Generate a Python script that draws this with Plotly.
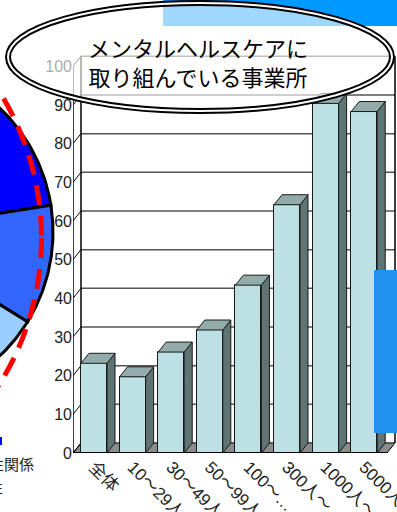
import numpy as np
import plotly.graph_objects as go

# ---------------- data ----------------
categories = ["全体", "10～29人", "30～49人", "50～99人", "100～…", "300人～", "1000人～", "5000人～"]
values = [23.2, 19.7, 26.1, 31.8, 43.4, 64.2, 90.4, 88.3]
y_ticks = [0, 10, 20, 30, 40, 50, 60, 70, 80, 90, 100]
pie_shares = [22.5, 11.3, 19.0, 47.2]
pie_colors = ["#0000FF", "#3366FF", "#99CCFF", "#CCCCCC"]
title_text = "メンタルヘルスケアに<br>取り組んでいる事業所"
legend_lines = ["異性関係", "異性"]

# ---------------- geometry (pixels of the 397x512 page) ----------------
W, H = 397, 512
X0PX, XSTEP = 94.0, 38.6        # pixel of category 0, pixels per category
Y0PX, YSCALE = 453.0, 3.867     # pixel of value 0, pixels per unit
XMIN = (73 - X0PX) / XSTEP
XMAX = (W - X0PX) / XSTEP
YMAX = Y0PX / YSCALE
DX = 8 / XSTEP                  # 3D depth offset in data units
DY = 10 / YSCALE
HW = 0.337                      # half bar width
XL_F, XL_B = XMIN, XMIN + DX
XR_B = (395 - X0PX) / XSTEP
XR_F = XR_B - DX

fig = go.Figure()

# front faces of bars
idx = list(range(len(categories)))
fig.add_trace(go.Bar(
    x=idx, y=values, width=2 * HW,
    marker=dict(color="#BDE0E4", line=dict(color="#1a1a1a", width=1)),
    showlegend=False, hoverinfo="skip", xaxis="x", yaxis="y"))

# side and top faces computed from the values
sx, sy, tx, ty = [], [], [], []
for i, v in zip(idx, values):
    sx += [i + HW, i + HW + DX, i + HW + DX, i + HW, i + HW, None]
    sy += [0, DY, v + DY, v, 0, None]
    tx += [i - HW, i - HW + DX, i + HW + DX, i + HW, i - HW, None]
    ty += [v, v + DY, v + DY, v, v, None]
fig.add_trace(go.Scatter(x=sx, y=sy, mode="lines", fill="toself", fillcolor="#5F7474",
                         line=dict(color="#1a1a1a", width=1), showlegend=False,
                         hoverinfo="skip", xaxis="x", yaxis="y"))
fig.add_trace(go.Scatter(x=tx, y=ty, mode="lines", fill="toself", fillcolor="#93ABAB",
                         line=dict(color="#1a1a1a", width=1), showlegend=False,
                         hoverinfo="skip", xaxis="x", yaxis="y"))

# pie (partially visible, centre off the page) drawn on a pixel axis
cx, cy, r = -118.0, 232.0, 171.0
start = 90.0
for share, col in zip(pie_shares, pie_colors):
    sweep = share / 100 * 360
    angs = np.radians(np.linspace(start, start - sweep, 80))
    xs = [cx] + list(cx + r * np.cos(angs)) + [cx]
    ys = [cy] + list(cy - r * np.sin(angs)) + [cy]
    fig.add_trace(go.Scatter(x=xs, y=ys, mode="lines", fill="toself", fillcolor=col,
                             line=dict(color="black", width=3), showlegend=False,
                             hoverinfo="skip", xaxis="x2", yaxis="y2"))
    start -= sweep

shapes = []
# floor
shapes.append(dict(type="path", xref="x", yref="y", layer="below",
                   path=f"M {XL_F},0 L {XR_F},0 L {XR_B},{DY} L {XL_B},{DY} Z",
                   fillcolor="#8C8C8C", line=dict(color="black", width=1)))
# back wall gridlines and left wall diagonals
for v in y_ticks:
    shapes.append(dict(type="line", xref="x", yref="y", layer="below",
                       x0=XL_B, x1=XR_B, y0=v + DY, y1=v + DY,
                       line=dict(color="#555555", width=1.5)))
    shapes.append(dict(type="line", xref="x", yref="y", layer="below",
                       x0=XL_F, x1=XL_B, y0=v, y1=v + DY,
                       line=dict(color="black", width=1)))
shapes += [
    dict(type="line", xref="x", yref="y", layer="below", x0=XL_F, x1=XL_F, y0=0, y1=100,
         line=dict(color="black", width=1.5)),
    dict(type="line", xref="x", yref="y", layer="below", x0=XL_B, x1=XL_B, y0=DY, y1=100 + DY,
         line=dict(color="black", width=1.5)),
    dict(type="line", xref="x", yref="y", layer="below", x0=XR_B, x1=XR_B, y0=DY, y1=100 + DY,
         line=dict(color="black", width=1.5)),
    dict(type="line", xref="x", yref="y", layer="above", x0=XL_F, x1=XR_F, y0=0, y1=0,
         line=dict(color="black", width=2)),
]

# decorations (pixel axis x2/y2)
shapes += [
    dict(type="circle", xref="x2", yref="y2", layer="above",
         x0=41.5 - 2 * 275, x1=41.5, y0=238 - 275, y1=238 + 275,
         line=dict(color="#FF0000", width=5, dash="20px,11px")),
    dict(type="rect", xref="x2", yref="y2", layer="above", x0=163, x1=400, y0=-3, y1=26,
         fillcolor="#0099FF", line=dict(width=0)),
    dict(type="rect", xref="x2", yref="y2", layer="above", x0=374, x1=400, y0=270, y1=433,
         fillcolor="#2391F0", line=dict(width=0)),
    dict(type="circle", xref="x2", yref="y2", layer="above", x0=8, x1=392, y0=3, y1=111,
         fillcolor="rgba(255,255,255,0.62)", line=dict(color="black", width=6)),
    dict(type="circle", xref="x2", yref="y2", layer="above", x0=8, x1=392, y0=3, y1=111,
         line=dict(color="white", width=2)),
    dict(type="rect", xref="x2", yref="y2", layer="above", x0=-5, x1=2, y0=437, y1=445,
         fillcolor="#0000FF", line=dict(width=0)),
]

annotations = [
    dict(xref="x2", yref="y2", x=198, y=61, text=title_text, showarrow=False,
         xanchor="center", yanchor="middle", align="center",
         font=dict(family="Noto Sans CJK JP", size=22, color="black")),
    dict(xref="x2", yref="y2", x=36, y=463, text=legend_lines[0], showarrow=False,
         xanchor="right", yanchor="middle",
         font=dict(family="Noto Sans CJK JP", size=15, color="#222222")),
    dict(xref="x2", yref="y2", x=5, y=486, text=legend_lines[1], showarrow=False,
         xanchor="right", yanchor="middle",
         font=dict(family="Noto Sans CJK JP", size=15, color="#222222")),
]

fig.update_layout(
    width=W, height=H, margin=dict(l=0, r=0, t=0, b=0, pad=0),
    paper_bgcolor="white", plot_bgcolor="rgba(0,0,0,0)",
    showlegend=False, bargap=0,
    font=dict(family="Liberation Sans, Noto Sans CJK JP", color="#222222"),
    xaxis=dict(domain=[73 / W, 1], range=[XMIN, XMAX], tickvals=idx, ticktext=categories,
               tickangle=45, showgrid=False, zeroline=False, showline=False, ticks="",
               ticklabeloverflow="allow",
               tickfont=dict(size=17, family="Liberation Sans, Noto Sans CJK JP", color="#222222"),
               anchor="y", fixedrange=True, automargin=False),
    yaxis=dict(domain=[1 - Y0PX / H, 1], range=[0, YMAX], tickvals=y_ticks,
               showgrid=False, zeroline=False, showline=False, ticks="",
               tickfont=dict(size=16, family="Liberation Sans", color="#222222"),
               anchor="x", fixedrange=True, automargin=False),
    xaxis2=dict(domain=[0, 1], range=[0, W], visible=False, anchor="y2", fixedrange=True,
                automargin=False),
    yaxis2=dict(domain=[0, 1], range=[H, 0], visible=False, anchor="x2", fixedrange=True,
                automargin=False),
    shapes=shapes, annotations=annotations,
)

fig.write_html("out.html")
